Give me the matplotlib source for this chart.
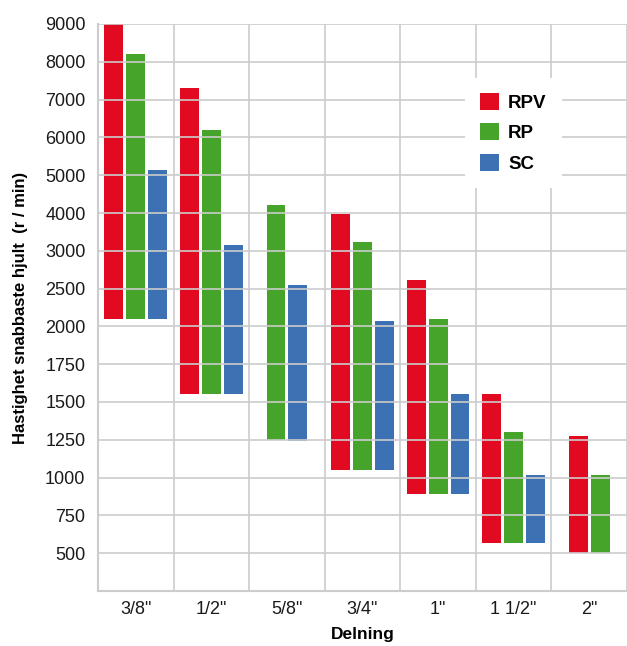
import numpy as np
import matplotlib
matplotlib.use("Agg")
import matplotlib.pyplot as plt
from matplotlib.patches import Patch

plt.rcParams['font.family'] = ['Liberation Sans', 'DejaVu Sans']

# Chain pitch categories
categories = ['3/8"', '1/2"', '5/8"', '3/4"', '1"', '1 1/2"', '2"']
series = ['RPV', 'RP', 'SC']
colors = ['#E10A21', '#47A42B', '#3C71B3']

# Speed ranges (r/min) per series: lower and upper limits, None = not offered
rpv_low = [2100, 1550, None, 1050, 890, 570, 500]
rpv_high = [9000, 7300, None, 3980, 2620, 1550, 1275]
rp_low = [2100, 1550, 1250, 1050, 890, 570, 500]
rp_high = [8200, 6200, 4200, 3230, 2100, 1300, 1020]
sc_low = [2100, 1550, 1240, 1050, 890, 570, None]
sc_high = [5150, 3150, 2550, 2070, 1550, 1020, None]

lows = [rpv_low, rp_low, sc_low]
highs = [rpv_high, rp_high, sc_high]

# Piecewise-linear value axis: equal spacing between listed tick values
scale_vals = [250, 500, 750, 1000, 1250, 1500, 1750, 2000, 2500,
              3000, 4000, 5000, 6000, 7000, 8000, 9000]
tick_labels_vals = scale_vals[1:]
scale_idx = np.arange(len(scale_vals), dtype=float)


def forward(v):
    return np.interp(v, scale_vals, scale_idx)


def inverse(p):
    return np.interp(p, scale_idx, scale_vals)


fig = plt.figure(figsize=(6.27, 6.46), dpi=100)
ax = fig.add_axes([98 / 627, 1 - 591 / 646, 529 / 627, (591 - 24) / 646])
ax.set_yscale('function', functions=(forward, inverse))
ax.set_ylim(250, 9000)
ax.set_xlim(-0.5, len(categories) - 0.5)

bar_w = 0.25
step = 0.29
for ci in range(len(categories)):
    present = [s for s in range(len(series)) if lows[s][ci] is not None]
    n = len(present)
    for k, s in enumerate(present):
        xpos = ci + (k - (n - 1) / 2) * step
        ax.bar(xpos, highs[s][ci] - lows[s][ci], bottom=lows[s][ci],
               width=bar_w, color=colors[s], zorder=2, linewidth=0)

grid_kw = dict(color='#cccccc', linewidth=1.2)
ax.set_yticks(tick_labels_vals)
ax.set_yticklabels([str(v) for v in tick_labels_vals])
ax.yaxis.set_minor_locator(matplotlib.ticker.NullLocator())
ax.set_xticks(range(len(categories)))
ax.set_xticklabels(categories)
ax.set_xticks(np.arange(-0.5, len(categories), 1.0), minor=True)
ax.grid(axis='y', which='major', zorder=3, **grid_kw)
ax.grid(axis='x', which='minor', zorder=0, **grid_kw)
ax.set_axisbelow(False)
for gl in ax.get_ygridlines():
    gl.set_zorder(3)
ax.tick_params(axis='both', which='both', length=0, labelsize=13, colors='#1a1a1a')
ax.tick_params(axis='y', pad=9)
ax.tick_params(axis='x', pad=7)

for side in ['top', 'right']:
    ax.spines[side].set_visible(False)
for side in ['left', 'bottom']:
    ax.spines[side].set_color('#cccccc')
    ax.spines[side].set_linewidth(1.5)

ax.set_ylabel('Hastighet snabbaste hjult  (r / min)', fontsize=12,
              fontweight='bold', labelpad=12)
ax.set_xlabel('Delning', fontsize=12.5, fontweight='bold', labelpad=7)

handles = [Patch(facecolor=c, edgecolor='none') for c in colors]
leg = fig.legend(handles, series, loc='upper left',
                 bbox_to_anchor=(465 / 627, 1 - 78 / 646),
                 frameon=True, fancybox=False, framealpha=1,
                 prop={'weight': 'bold', 'size': 13.5},
                 handlelength=1.0, handleheight=1.0, handletextpad=0.5,
                 labelspacing=0.62, borderpad=0.8, borderaxespad=0)
leg.get_frame().set_edgecolor('none')
leg.get_frame().set_facecolor('white')
leg.set_zorder(5)

fig.savefig('out.png', dpi=100)
